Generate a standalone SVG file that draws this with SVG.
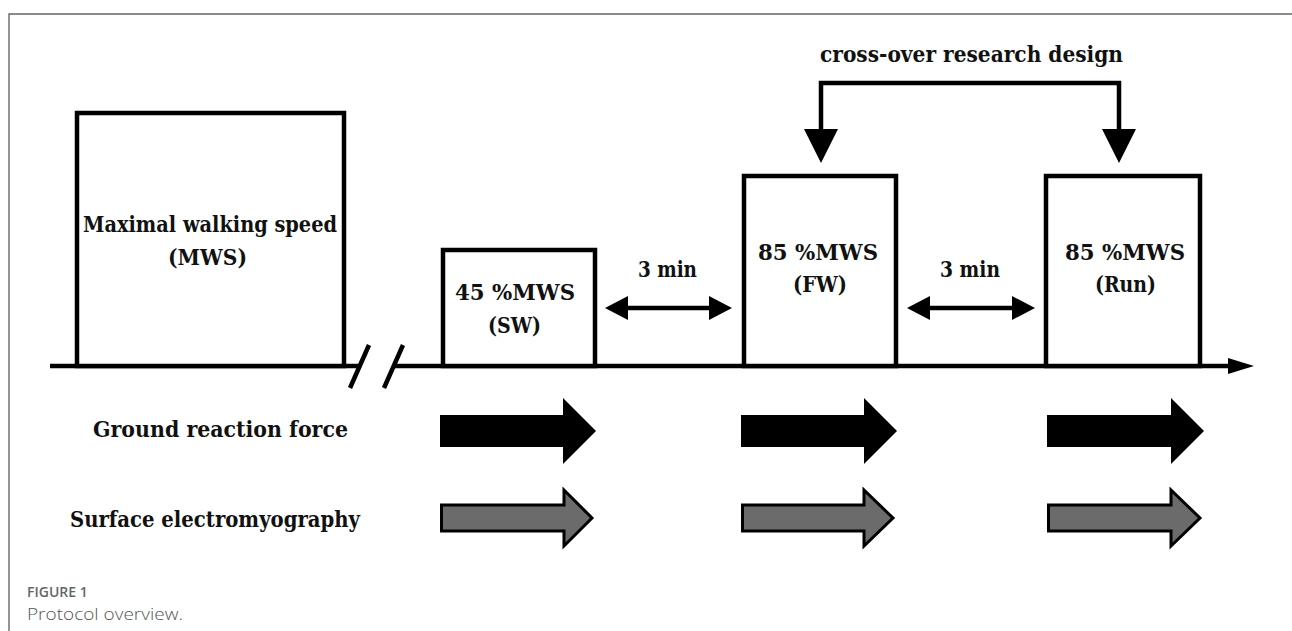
<svg xmlns="http://www.w3.org/2000/svg" width="1292" height="631" viewBox="0 0 1292 631">
<defs>
<style>
.lbl{font-family:"DejaVu Serif","Liberation Serif",serif;font-weight:bold;font-size:22px;fill:#111;}
.box{fill:#fff;stroke:#000;stroke-width:4.5;}
.ln{fill:none;stroke:#000;stroke-width:4.5;}
.cap1{font-family:"Open Sans","Noto Sans",sans-serif;font-weight:600;font-size:14px;fill:#666;}
.cap2{font-family:"Open Sans","Noto Sans",sans-serif;font-weight:300;font-size:17px;fill:#555;}
.blk{fill:#000;}
.gry{fill:#6b6b6b;stroke:#000;stroke-width:3;stroke-linejoin:miter;}
</style>
</defs>
<rect width="1292" height="631" fill="#fff"/>
<g id="frame">
<path d="M9,631 V14 H1292" fill="none" stroke="#666" stroke-width="1.4"/>
</g>
<g id="connectors">
<path class="ln" d="M50,366 H359 M393,366 H1232"/>
<polygon class="blk" points="1228,358 1254,366 1228,374"/>
<path class="ln" d="M350,388 L369,345 M384,388 L403,345"/>
<path class="ln" d="M821,130 V83 H1119 V130"/>
<polygon class="blk" points="804,129 838,129 821,163"/>
<polygon class="blk" points="1102,129 1136,129 1119,163"/>
<path class="ln" d="M625,308 H712"/>
<polygon class="blk" points="628,296 605,308 628,320"/>
<polygon class="blk" points="709,296 732,308 709,320"/>
<path class="ln" d="M927,308 H1015"/>
<polygon class="blk" points="930,296 907,308 930,320"/>
<polygon class="blk" points="1012,296 1035,308 1012,320"/>
</g>
<g id="mws">
<rect class="box" x="77" y="113" width="267" height="253"/>
<text class="lbl" x="83" y="232" textLength="254" lengthAdjust="spacingAndGlyphs">Maximal walking speed</text>
<text class="lbl" x="168" y="265" textLength="79" lengthAdjust="spacingAndGlyphs">(MWS)</text>
</g>
<g id="sw">
<rect class="box" x="443" y="250" width="152" height="116"/>
<text class="lbl" x="455" y="300" textLength="120" lengthAdjust="spacingAndGlyphs">45 %MWS</text>
<text class="lbl" x="488" y="333" textLength="53" lengthAdjust="spacingAndGlyphs">(SW)</text>
</g>
<g id="fw">
<rect class="box" x="744" y="176" width="152" height="190"/>
<text class="lbl" x="758" y="260" textLength="120" lengthAdjust="spacingAndGlyphs">85 %MWS</text>
<text class="lbl" x="793" y="292" textLength="54" lengthAdjust="spacingAndGlyphs">(FW)</text>
</g>
<g id="run">
<rect class="box" x="1046" y="176" width="154" height="190"/>
<text class="lbl" x="1065" y="260" textLength="120" lengthAdjust="spacingAndGlyphs">85 %MWS</text>
<text class="lbl" x="1095" y="292" textLength="61" lengthAdjust="spacingAndGlyphs">(Run)</text>
</g>
<g id="labels">
<text class="lbl" x="820" y="62" textLength="303" lengthAdjust="spacingAndGlyphs">cross-over research design</text>
<text class="lbl" x="638" y="277" textLength="59" lengthAdjust="spacingAndGlyphs">3 min</text>
<text class="lbl" x="940" y="277" textLength="60" lengthAdjust="spacingAndGlyphs">3 min</text>
<text class="lbl" x="93" y="437" textLength="255" lengthAdjust="spacingAndGlyphs">Ground  reaction force</text>
<text class="lbl" x="70" y="527" textLength="290" lengthAdjust="spacingAndGlyphs">Surface electromyography</text>
</g>
<g id="grf-arrows">
<polygon class="blk" points="440,415 563,415 563,398 596,431 563,464 563,447 440,447"/>
<polygon class="blk" points="741,415 864,415 864,398 897,431 864,464 864,447 741,447"/>
<polygon class="blk" points="1047,415 1171,415 1171,398 1204,431 1171,464 1171,447 1047,447"/>
</g>
<g id="emg-arrows">
<polygon class="gry" points="441.5,505 564,505 564,490 592,518 564,546 564,531 441.5,531"/>
<polygon class="gry" points="742.5,505 864,505 864,490 893,518 864,546 864,531 742.5,531"/>
<polygon class="gry" points="1048.5,505 1171,505 1171,490 1200,518 1171,546 1171,531 1048.5,531"/>
</g>
<g id="caption">
<text class="cap1" x="27" y="597">FIGURE 1</text>
<text class="cap2" x="27" y="620" textLength="156" lengthAdjust="spacingAndGlyphs">Protocol overview.</text>
</g>
</svg>
